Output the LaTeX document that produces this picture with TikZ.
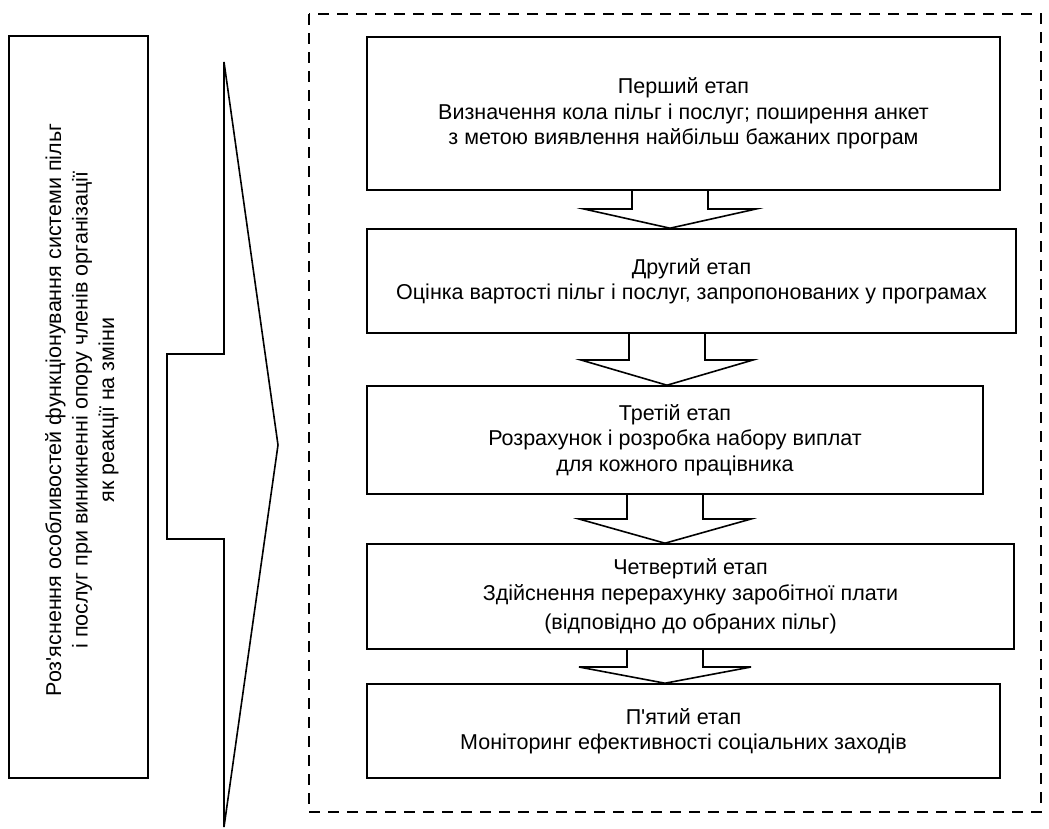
\documentclass[tikz,border=0pt]{standalone}
\usepackage{fontspec}
\setmainfont{Liberation Sans}
\usetikzlibrary{calc}
\begin{document}
\begin{tikzpicture}[x=1pt,y=-1pt,
  line/.style={line width=1.6pt, line join=miter},
  stage/.style={draw, line width=1.6pt, inner sep=0pt, align=center,
    font=\fontsize{21.5}{25.5}\selectfont},
  frame/.style={line width=1.6pt, dash pattern=on 11pt off 8pt}]
\useasboundingbox (0,0) rectangle (1049,828);
% left box
\node[draw, line width=1.6pt, minimum width=139pt, minimum height=742pt, inner sep=0pt] (L) at (78.5,407) {};
\node[rotate=90, align=center, font=\fontsize{21.5}{26.5}\selectfont] (Lt) at (82,410)
  {Роз\textquotesingle яснення особливостей функціонування системи пільг\\
   і послуг при виникненні опору членів організації\\
   як реакції на зміни};
% big arrow
\coordinate (Atop) at (224,62);
\coordinate (Atip) at (278,445);
\coordinate (Abot) at (224,827);
\draw[line] (Atop) -- (Atip) -- (Abot) -- (224,539) -- (167,539) -- (167,354) -- (224,354) -- cycle;
% dashed frame
\draw[frame] (309,14) rectangle (1041,812);
% stages
\node[stage, minimum width=633pt, minimum height=153pt] (b1) at (683.5,113.5)
  {Перший етап\\Визначення кола пільг і послуг; поширення анкет\\з метою виявлення найбільш бажаних програм};
\node[stage, minimum width=649pt, minimum height=104pt] (b2) at (691.5,281)
  {Другий етап\\Оцінка вартості пільг і послуг, запропонованих у програмах};
\node[stage, minimum width=616pt, minimum height=108pt] (b3) at (675,440)
  {Третій етап\\Розрахунок і розробка набору виплат\\для кожного працівника};
\node[stage, minimum width=647pt, minimum height=105pt] (b4) at (690.5,596.5)
  {Четвертий етап\\Здійснення перерахунку заробітної плати\\[4pt](відповідно до обраних пільг)};
\node[stage, minimum width=633pt, minimum height=94pt] (b5) at (683.5,731)
  {П\textquotesingle ятий етап\\Моніторинг ефективності соціальних заходів};
% block arrows
\newcommand{\blockarrow}[4]{% from, to, centre x, base y
  \draw[line] ($(#3-38,0)!(#1.south)!(#3-38,1)$) -- (#3-38,#4) -- (#3-86,#4)
    -- ($(#3,0)!(#2.north)!(#3,1)$) -- (#3+86,#4) -- (#3+38,#4)
    -- ($(#3+38,0)!(#1.south)!(#3+38,1)$);}
\blockarrow{b1}{b2}{670}{209}
\blockarrow{b2}{b3}{667}{360}
\blockarrow{b3}{b4}{665}{519}
\blockarrow{b4}{b5}{665}{667}
\end{tikzpicture}
\end{document}
